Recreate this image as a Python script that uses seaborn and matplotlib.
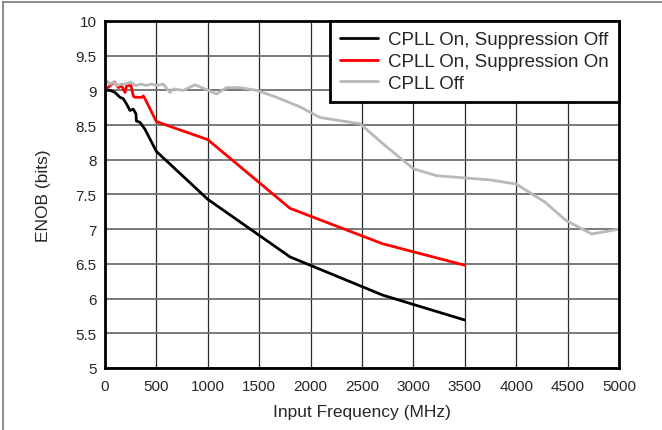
import numpy as np
import pandas as pd
import seaborn as sns
from matplotlib import pyplot as plt
from matplotlib.lines import Line2D

# ---------- DATA ----------
freq_black = [0, 50, 97, 146, 178, 211, 243, 275, 302, 305, 340, 389, 500, 1000, 1800, 2700, 3500]
enob_black = [9.0, 9.0, 8.97, 8.90, 8.88, 8.80, 8.71, 8.73, 8.66, 8.56, 8.54, 8.44, 8.12, 7.43, 6.60, 6.05, 5.69]

freq_red = [0, 65, 90, 131, 160, 195, 211, 253, 275, 292, 357, 373, 389, 500, 1000, 1800, 2700, 3500]
enob_red = [9.0, 9.09, 9.12, 9.04, 9.07, 8.97, 9.07, 9.07, 8.92, 8.90, 8.90, 8.92, 8.88, 8.55, 8.29, 7.30, 6.79, 6.48]

freq_gray = [0, 16, 49, 80, 120, 160, 200, 250, 300, 350, 400, 450, 500, 567, 632, 665, 762, 875, 989,
             1086, 1183, 1313, 1475, 1670, 1900, 2091, 2300, 2481, 2705, 3000, 3226, 3745, 4000, 4280,
             4480, 4734, 5000]
enob_gray = [9.05, 9.14, 9.09, 9.12, 9.07, 9.09, 9.09, 9.12, 9.07, 9.09, 9.07, 9.09, 9.07, 9.09, 8.97,
             9.02, 9.0, 9.08, 9.01, 8.95, 9.04, 9.04, 9.0, 8.90, 8.76, 8.61, 8.56, 8.52, 8.23, 7.87, 7.77,
             7.71, 7.65, 7.39, 7.13, 6.93, 7.0]

labels = ['CPLL On, Suppression Off', 'CPLL On, Suppression On', 'CPLL Off']

df = pd.concat([
    pd.DataFrame({'f': freq_black, 'enob': enob_black, 'serija': labels[0]}),
    pd.DataFrame({'f': freq_red, 'enob': enob_red, 'serija': labels[1]}),
    pd.DataFrame({'f': freq_gray, 'enob': enob_gray, 'serija': labels[2]}),
], ignore_index=True)

# ---------- GRAF ----------
sns.set_style('white')
plt.rcParams['font.family'] = ['Liberation Sans', 'DejaVu Sans']

fig = plt.figure(figsize=(6.62, 4.31), dpi=100)
ax = fig.add_axes([0.1586, 0.144, 0.7764, 0.805])

barve = {labels[0]: 'black', labels[1]: '#ff0000', labels[2]: '#b9b9b9'}
sns.lineplot(data=df, x='f', y='enob', hue='serija', hue_order=labels, palette=barve,
             estimator=None, sort=False, linewidth=2, ax=ax)

ax.set_xlim(0, 5000)
ax.set_ylim(5, 10)
ax.set_xticks(np.arange(0, 5001, 500))
ax.set_yticks(np.arange(5, 10.01, 0.5))
ax.set_yticklabels(['5', '5.5', '6', '6.5', '7', '7.5', '8', '8.5', '9', '9.5', '10'])
ax.tick_params(length=0, labelsize=11)
ax.tick_params(axis='x', pad=8)
ax.tick_params(axis='y', pad=6)

ax.grid(True, axis='y', color='#6e6e6e', linewidth=1.3)
ax.grid(True, axis='x', color='#2a2a2a', linewidth=0.9)
ax.set_axisbelow(True)
for s in ax.spines.values():
    s.set_color('black')
    s.set_linewidth(2)

ax.set_xlabel('Input Frequency (MHz)', fontsize=12.5, labelpad=8)
ax.set_ylabel('ENOB (bits)', fontsize=12.5, labelpad=18)

leg = ax.legend(loc='upper right', fontsize=13.5, frameon=True, fancybox=False,
                borderaxespad=0, handlelength=2.0, handletextpad=0.55,
                labelspacing=0.25, borderpad=0.55)
leg.get_frame().set_edgecolor('black')
leg.get_frame().set_linewidth(2)
leg.get_frame().set_alpha(1)

# okvir slike (zgoraj in levo)
fig.add_artist(Line2D([0.005, 1], [0.993, 0.993], color='#777777', linewidth=1.2, transform=fig.transFigure))
fig.add_artist(Line2D([0.005, 0.005], [0, 0.993], color='#777777', linewidth=1.2, transform=fig.transFigure))

fig.savefig('out.png', dpi=100)
